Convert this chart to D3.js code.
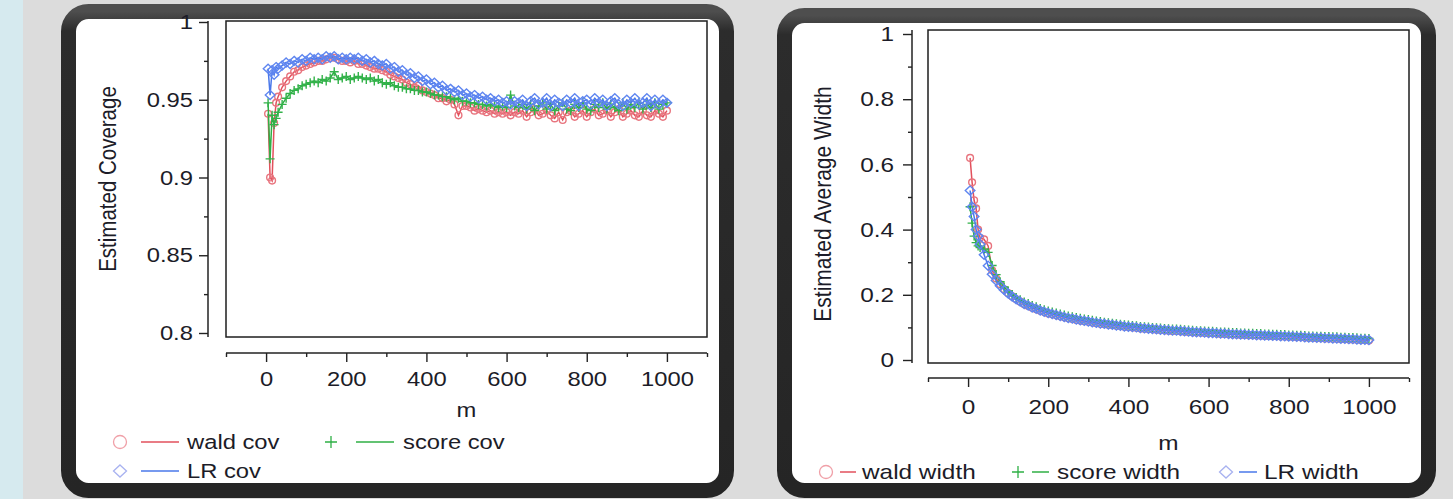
<!DOCTYPE html>
<html>
<head>
<meta charset="utf-8">
<script src="https://cdn.jsdelivr.net/npm/d3@7"></script>
<style>
	body { margin: 0; background: #dcdcdc; overflow: hidden; }
	text { font-family: "Liberation Sans", Arial, sans-serif; fill: #1c1c28; }
</style>
</head>
<body>
<div id="visContainer"></div>
<script>
'use strict';

// m values shared by every series
var mValues = [5, 10, 15, 20, 25, 30].concat(d3.range(40, 1001, 10));

// estimated coverage (left chart)
var waldCov = [0.941, 0.900, 0.898, 0.935, 0.948, 0.952,
	0.958, 0.962, 0.965, 0.968, 0.969, 0.971, 0.972, 0.973, 0.974, 0.975,
	0.975, 0.976, 0.977, 0.977, 0.976, 0.975, 0.975, 0.974, 0.975, 0.973,
	0.973, 0.972, 0.971, 0.970, 0.970, 0.969, 0.968, 0.966, 0.965, 0.964,
	0.963, 0.961, 0.960, 0.958, 0.959, 0.956, 0.955, 0.954, 0.953, 0.951,
	0.951, 0.949, 0.950, 0.947, 0.940, 0.946, 0.946, 0.945, 0.943, 0.944,
	0.943, 0.942, 0.943, 0.941, 0.942, 0.941, 0.942, 0.940, 0.942, 0.941,
	0.943, 0.939, 0.942, 0.944, 0.940, 0.941, 0.943, 0.940, 0.938, 0.942,
	0.937, 0.942, 0.943, 0.939, 0.941, 0.943, 0.939, 0.942, 0.944, 0.940,
	0.941, 0.943, 0.939, 0.942, 0.944, 0.939, 0.941, 0.943, 0.940, 0.939,
	0.943, 0.940, 0.939, 0.943, 0.941, 0.939, 0.943];

var scoreCov = [0.948, 0.912, 0.940, 0.934, 0.938, 0.942,
	0.947, 0.951, 0.954, 0.956, 0.957, 0.959, 0.960, 0.961, 0.962, 0.961,
	0.963, 0.962, 0.964, 0.968, 0.963, 0.964, 0.965, 0.963, 0.964, 0.965,
	0.964, 0.963, 0.964, 0.962, 0.963, 0.961, 0.960, 0.961, 0.959, 0.958,
	0.958, 0.957, 0.957, 0.956, 0.956, 0.955, 0.955, 0.954, 0.953, 0.953,
	0.952, 0.952, 0.951, 0.950, 0.951, 0.949, 0.949, 0.948, 0.948, 0.947,
	0.947, 0.946, 0.947, 0.946, 0.945, 0.946, 0.945, 0.953, 0.946, 0.945,
	0.947, 0.944, 0.947, 0.943, 0.946, 0.948, 0.944, 0.947, 0.943, 0.946,
	0.948, 0.944, 0.943, 0.947, 0.945, 0.948, 0.944, 0.943, 0.947, 0.945,
	0.948, 0.944, 0.947, 0.945, 0.943, 0.948, 0.944, 0.947, 0.945, 0.948,
	0.944, 0.947, 0.945, 0.948, 0.944, 0.947, 0.948];

var lrCov = [0.970, 0.953, 0.969, 0.966, 0.971, 0.970,
	0.972, 0.974, 0.973, 0.975, 0.974, 0.976, 0.975, 0.977, 0.976, 0.977,
	0.976, 0.978, 0.977, 0.978, 0.976, 0.977, 0.976, 0.977, 0.976, 0.977,
	0.975, 0.976, 0.974, 0.975, 0.973, 0.972, 0.973, 0.970, 0.971, 0.968,
	0.969, 0.966, 0.967, 0.964, 0.965, 0.962, 0.963, 0.960, 0.961, 0.958,
	0.959, 0.956, 0.957, 0.955, 0.956, 0.953, 0.954, 0.952, 0.953, 0.951,
	0.952, 0.950, 0.951, 0.949, 0.950, 0.948, 0.949, 0.947, 0.949, 0.948,
	0.950, 0.946, 0.949, 0.951, 0.947, 0.948, 0.951, 0.946, 0.950, 0.948,
	0.946, 0.950, 0.948, 0.951, 0.946, 0.949, 0.950, 0.947, 0.951, 0.948,
	0.950, 0.946, 0.949, 0.951, 0.947, 0.946, 0.950, 0.948, 0.951, 0.947,
	0.948, 0.951, 0.946, 0.950, 0.947, 0.950, 0.948];

// estimated average width (right chart)
var waldWidth = [0.620, 0.545, 0.490, 0.465, 0.400, 0.375,
	0.370, 0.350, 0.275, 0.250, 0.232, 0.217, 0.205, 0.195, 0.186, 0.179,
	0.171, 0.166, 0.160, 0.156, 0.151, 0.147, 0.143, 0.140, 0.137, 0.134,
	0.131, 0.128, 0.126, 0.123, 0.121, 0.119, 0.117, 0.115, 0.113, 0.111,
	0.110, 0.108, 0.107, 0.105, 0.104, 0.102, 0.101, 0.100, 0.099, 0.097,
	0.096, 0.095, 0.094, 0.093, 0.092, 0.091, 0.090, 0.089, 0.089, 0.088,
	0.087, 0.086, 0.085, 0.084, 0.084, 0.083, 0.082, 0.082, 0.081, 0.080,
	0.080, 0.079, 0.078, 0.078, 0.077, 0.077, 0.076, 0.076, 0.075, 0.075,
	0.074, 0.074, 0.073, 0.073, 0.072, 0.072, 0.071, 0.071, 0.070, 0.070,
	0.069, 0.068, 0.068, 0.067, 0.067, 0.066, 0.066, 0.065, 0.065, 0.064,
	0.064, 0.063, 0.063, 0.062, 0.061, 0.061, 0.060];

var scoreWidth = [0.470, 0.420, 0.380, 0.360, 0.350, 0.345,
	0.340, 0.330, 0.290, 0.262, 0.240, 0.224, 0.211, 0.201, 0.192, 0.185,
	0.178, 0.173, 0.167, 0.163, 0.158, 0.154, 0.150, 0.147, 0.144, 0.141,
	0.138, 0.135, 0.133, 0.130, 0.128, 0.126, 0.124, 0.122, 0.120, 0.118,
	0.116, 0.114, 0.113, 0.111, 0.110, 0.108, 0.107, 0.106, 0.105, 0.103,
	0.102, 0.101, 0.100, 0.099, 0.098, 0.097, 0.096, 0.095, 0.095, 0.094,
	0.093, 0.092, 0.091, 0.090, 0.090, 0.089, 0.088, 0.088, 0.087, 0.086,
	0.086, 0.085, 0.084, 0.084, 0.083, 0.083, 0.082, 0.082, 0.081, 0.081,
	0.080, 0.080, 0.079, 0.079, 0.078, 0.078, 0.077, 0.077, 0.076, 0.076,
	0.075, 0.074, 0.074, 0.073, 0.073, 0.072, 0.072, 0.071, 0.071, 0.070,
	0.070, 0.069, 0.069, 0.068, 0.067, 0.067, 0.066];

var lrWidth = [0.520, 0.470, 0.440, 0.400, 0.380, 0.355,
	0.323, 0.289, 0.263, 0.244, 0.228, 0.215, 0.204, 0.195, 0.186, 0.179,
	0.172, 0.167, 0.161, 0.157, 0.152, 0.148, 0.144, 0.141, 0.138, 0.135,
	0.132, 0.129, 0.127, 0.124, 0.122, 0.120, 0.118, 0.116, 0.114, 0.112,
	0.111, 0.109, 0.108, 0.106, 0.105, 0.103, 0.102, 0.101, 0.100, 0.098,
	0.097, 0.096, 0.095, 0.094, 0.093, 0.092, 0.091, 0.090, 0.090, 0.089,
	0.088, 0.087, 0.086, 0.085, 0.085, 0.084, 0.083, 0.083, 0.082, 0.081,
	0.081, 0.080, 0.079, 0.079, 0.078, 0.078, 0.077, 0.077, 0.076, 0.076,
	0.075, 0.075, 0.074, 0.074, 0.073, 0.073, 0.072, 0.072, 0.071, 0.071,
	0.070, 0.069, 0.069, 0.068, 0.068, 0.067, 0.067, 0.066, 0.066, 0.065,
	0.065, 0.064, 0.064, 0.063, 0.062, 0.062, 0.061];

// tick values
var covTicks = [0.8, 0.85, 0.9, 0.95, 1];
var covMinorTicks = [0.825, 0.875, 0.925, 0.975];
var widthTicks = [0, 0.2, 0.4, 0.6, 0.8, 1];
var widthMinorTicks = [0.1, 0.3, 0.5, 0.7, 0.9];
var mTicks = [0, 200, 400, 600, 800, 1000];
var mMinorTicks = [-100, 100, 300, 500, 700, 900, 1100];

var COLORS = {
	wald: { line: '#e2505c', mark: '#e8747e', key: '#f0a0a8' },
	score: { line: '#2faf45', mark: '#33b24a', key: '#2fb045' },
	lr: { line: '#4a78ea', mark: '#5f86f0', key: '#a8b2f0' }
};

// text in the picture is a little wider than plain Arial
var STRETCH = 1.16;

var MARKERS = {
	circle: d3.symbol(d3.symbolCircle, 36)(),
	plus: 'M-4.5,0H4.5M0,-4.5V4.5',
	diamond: 'M0,-4.5L4.8,0L0,4.5L-4.8,0Z'
};

var svg = d3.select('#visContainer')
	.append('svg')
	.attr('width', 1453)
	.attr('height', 499)
	.style('display', 'block');

var defs = svg.append('defs');
var rim = defs.append('linearGradient')
	.attr('id', 'rim')
	.attr('x1', 0).attr('y1', 0).attr('x2', 0).attr('y2', 1);
rim.append('stop').attr('offset', '0%').attr('stop-color', '#4e4e4e');
rim.append('stop').attr('offset', '4%').attr('stop-color', '#2c2c2c');
rim.append('stop').attr('offset', '100%').attr('stop-color', '#252525');

// page background
svg.append('rect').attr('width', 1453).attr('height', 499).attr('fill', '#dcdcdc');
svg.append('rect').attr('width', 23).attr('height', 499).attr('fill', '#d6eaef');

function addText(g, str, x, y, size, anchor, rotate) {
	return g.append('text')
		.attr('transform', 'translate(' + x + ',' + y + ') scale(' + STRETCH + ',1)' + (rotate ? ' rotate(-90)' : ''))
		.attr('text-anchor', anchor)
		.attr('dy', '0.35em')
		.style('font-size', size + 'px')
		.text(str);
}

function styleAxis(sel, size) {
	sel.attr('font-size', null).attr('font-family', null);
	sel.select('.domain').remove();
	sel.selectAll('line').attr('stroke', '#222').attr('stroke-width', 1.4);
	sel.selectAll('text')
		.style('font-size', size + 'px')
		.attr('fill', null)
		.attr('transform', 'scale(' + STRETCH + ',1)');
}

function drawSeries(g, x, y, values, color, marker) {
	var pts = mValues.map(function (m, i) { return [x(m), y(values[i])]; });

	g.append('path')
		.attr('d', d3.line()(pts))
		.attr('fill', 'none')
		.attr('stroke', color.line)
		.attr('stroke-width', 1.5);

	g.append('g').selectAll('path')
		.data(pts)
		.enter().append('path')
		.attr('transform', function (d) { return 'translate(' + d[0] + ',' + d[1] + ')'; })
		.attr('d', MARKERS[marker])
		.attr('fill', 'none')
		.attr('stroke', color.mark)
		.attr('stroke-width', 1.4);
}

function drawPanel(p) {
	var g = svg.append('g');

	// rounded dark frame of the panel
	g.append('rect')
		.attr('x', p.box[0] + 7.5)
		.attr('y', p.box[1] + 7.5)
		.attr('width', p.box[2] - p.box[0] - 15)
		.attr('height', p.box[3] - p.box[1] - 15)
		.attr('rx', 20)
		.attr('fill', '#fff')
		.attr('stroke', 'url(#rim)')
		.attr('stroke-width', 15);

	var x = d3.scaleLinear().domain([-100, 1100]).range([p.frame[0], p.frame[2]]);
	var y = d3.scaleLinear().domain(p.yDomain).range(p.yRange);

	// plot box
	g.append('rect')
		.attr('x', p.frame[0])
		.attr('y', p.frame[1])
		.attr('width', p.frame[2] - p.frame[0])
		.attr('height', p.frame[3] - p.frame[1])
		.attr('fill', 'none')
		.attr('stroke', '#1e1e1e')
		.attr('stroke-width', 1.5);

	// y axis
	g.append('line')
		.attr('x1', p.axisX).attr('x2', p.axisX)
		.attr('y1', p.frame[1]).attr('y2', p.frame[3])
		.attr('stroke', '#222').attr('stroke-width', 1.5);
	g.append('g')
		.attr('transform', 'translate(' + p.axisX + ',0)')
		.call(d3.axisLeft(y).tickValues(p.yTicks).tickSize(9).tickPadding(p.yPad).tickFormat(String))
		.call(styleAxis, p.font);
	g.append('g')
		.attr('transform', 'translate(' + p.axisX + ',0)')
		.call(d3.axisLeft(y).tickValues(p.yMinor).tickSize(4).tickFormat(''))
		.call(styleAxis, p.font);

	// x axis, detached below the plot box
	g.append('line')
		.attr('x1', p.frame[0]).attr('x2', p.frame[2])
		.attr('y1', p.axisY).attr('y2', p.axisY)
		.attr('stroke', '#222').attr('stroke-width', 1.5);
	g.append('g')
		.attr('transform', 'translate(0,' + p.axisY + ')')
		.call(d3.axisBottom(x).tickValues(mTicks).tickSize(9).tickPadding(p.xPad).tickFormat(String))
		.call(styleAxis, p.font);
	g.append('g')
		.attr('transform', 'translate(0,' + p.axisY + ')')
		.call(d3.axisBottom(x).tickValues(mMinorTicks).tickSize(4).tickFormat(''))
		.call(styleAxis, p.font);

	// axis titles
	addText(g, 'm', (p.frame[0] + p.frame[2]) / 2, p.mLabelY, p.font, 'middle', false);
	addText(g, p.yTitle, p.yTitlePos[0], p.yTitlePos[1], p.font, 'middle', true);

	// curves
	p.series.forEach(function (s) {
		drawSeries(g, x, y, s.values, COLORS[s.key], s.marker);
	});

	// legend
	p.legend.forEach(function (item) {
		var c = COLORS[item.key];
		var big = item.marker === 'circle' ? 'M-6.5,0A6.5,6.5 0 1,0 6.5,0A6.5,6.5 0 1,0 -6.5,0'
			: item.marker === 'plus' ? 'M-6,0H6M0,-6V6' : 'M0,-6L6.5,0L0,6L-6.5,0Z';
		g.append('path')
			.attr('transform', 'translate(' + item.mx + ',' + item.y + ')')
			.attr('d', big)
			.attr('fill', 'none')
			.attr('stroke', c.key)
			.attr('stroke-width', 1.3);
		g.append('line')
			.attr('x1', item.l0).attr('x2', item.l1)
			.attr('y1', item.y).attr('y2', item.y)
			.attr('stroke', c.line)
			.attr('stroke-width', 1.5);
		addText(g, item.label, item.tx, item.y, p.font, 'start', false);
	});
}

drawPanel({
	box: [61, 4, 734, 498],
	frame: [226, 21, 707, 337],
	axisX: 208,
	axisY: 353,
	yDomain: [0.8, 1],
	yRange: [333, 22],
	yTicks: covTicks,
	yMinor: covMinorTicks,
	yPad: 4,
	xPad: 9,
	font: 20.5,
	mLabelY: 410,
	yTitle: 'Estimated Coverage',
	yTitlePos: [108, 179],
	series: [
		{ key: 'wald', values: waldCov, marker: 'circle' },
		{ key: 'score', values: scoreCov, marker: 'plus' },
		{ key: 'lr', values: lrCov, marker: 'diamond' }
	],
	legend: [
		{ key: 'wald', marker: 'circle', label: 'wald cov', mx: 120, l0: 141, l1: 179, tx: 187, y: 442 },
		{ key: 'score', marker: 'plus', label: 'score cov', mx: 331, l0: 356, l1: 394, tx: 403, y: 442 },
		{ key: 'lr', marker: 'diamond', label: 'LR cov', mx: 120, l0: 141, l1: 179, tx: 187, y: 471 }
	]
});

drawPanel({
	box: [777, 8, 1436, 498],
	frame: [928, 30, 1409, 363],
	axisX: 912,
	axisY: 378,
	yDomain: [0, 1],
	yRange: [360, 34],
	yTicks: widthTicks,
	yMinor: widthMinorTicks,
	yPad: 6.5,
	xPad: 12.5,
	font: 21,
	mLabelY: 443,
	yTitle: 'Estimated Average Width',
	yTitlePos: [822, 204],
	series: [
		{ key: 'wald', values: waldWidth, marker: 'circle' },
		{ key: 'score', values: scoreWidth, marker: 'plus' },
		{ key: 'lr', values: lrWidth, marker: 'diamond' }
	],
	legend: [
		{ key: 'wald', marker: 'circle', label: 'wald width', mx: 826, l0: 840, l1: 856, tx: 862, y: 472 },
		{ key: 'score', marker: 'plus', label: 'score width', mx: 1018, l0: 1032, l1: 1049, tx: 1057, y: 472 },
		{ key: 'lr', marker: 'diamond', label: 'LR width', mx: 1226, l0: 1239, l1: 1257, tx: 1264, y: 472 }
	]
});
</script>
</body>
</html>
